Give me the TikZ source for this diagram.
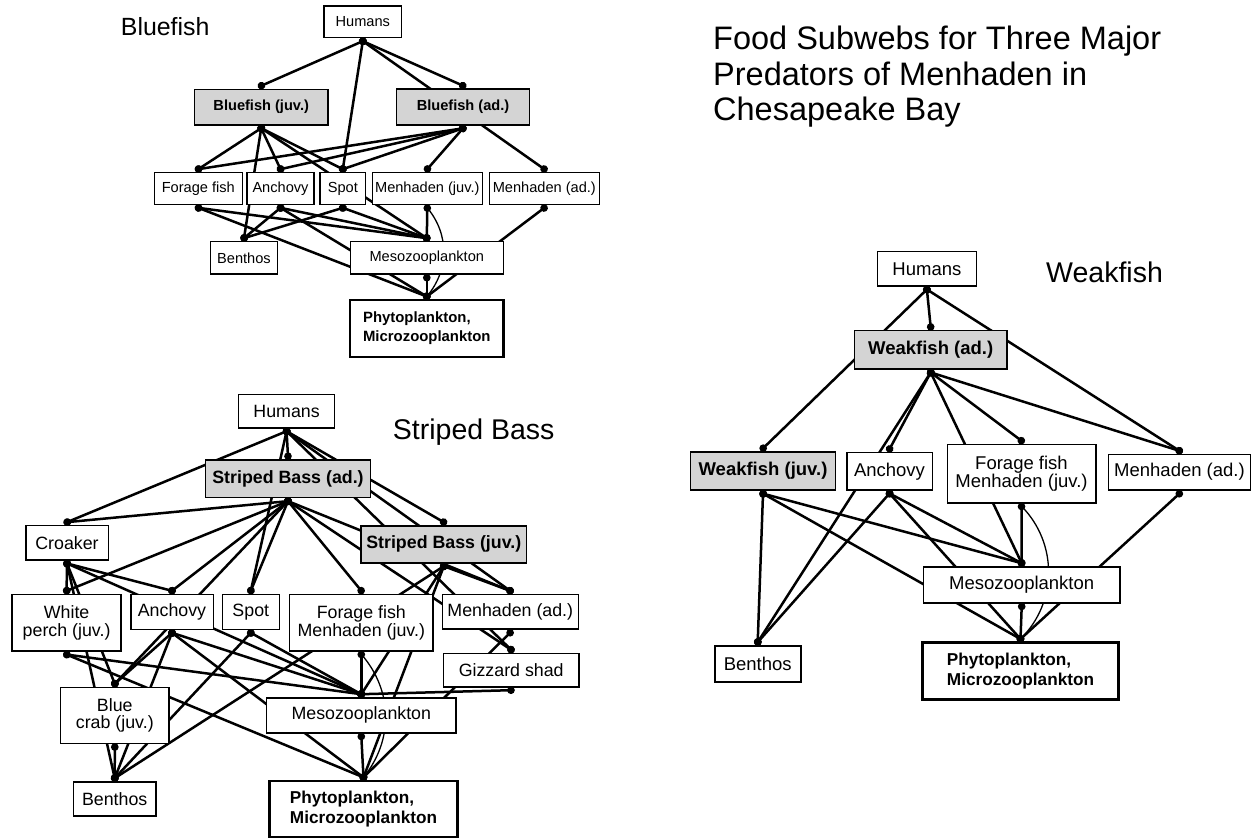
\documentclass[tikz,border=0pt]{standalone}
\usepackage{fontspec}
\setmainfont{Liberation Sans}
\usetikzlibrary{arrows.meta,backgrounds}
\definecolor{fishgray}{RGB}{212,212,212}

\tikzset{
  box/.style={draw, line width=1.6pt, fill=white, inner sep=0pt, outer sep=3.5pt, align=center},
  fishbox/.style={box, fill=fishgray, font=\bfseries},
  plankbox/.style={box, line width=2.6pt, align=left, font=\bfseries\fontsize{17.2}{20}\selectfont},
  feed/.style={line width=2.5pt, {Circle[length=7.5pt]}-{Circle[length=7.5pt]}, shorten <=-3.5pt, shorten >=-3.5pt},
  curl/.style={line width=1.3pt, bend left=#1},
  webtitle/.style={anchor=base west, inner sep=0pt, font=\fontsize{28.5}{32}\selectfont}
}

\begin{document}
\begin{tikzpicture}[x=1pt, y=-1pt]
  \useasboundingbox (0,0) rectangle (1257,838);

  % titles
  \node[anchor=north west, inner sep=0pt, align=left, font=\fontsize{32.5}{35.5}\selectfont] (maintitle) at (713,26)
    {Food Subwebs for Three Major\\Predators of Menhaden in\\Chesapeake Bay};
  \node[webtitle, font=\fontsize{24.9}{28}\selectfont] (bluetitle) at (120.7,35) {Bluefish};
  \node[webtitle] (stripetitle) at (392.7,439) {Striped Bass};
  \node[webtitle] (weaktitle) at (1046,282) {Weakfish};

  % Bluefish subweb
  \begin{scope}[node font=\fontsize{14.6}{14.6}\selectfont]
    \node[box, minimum width=77.7, minimum height=31.7] (bhum) at (362.8,21.8) {Humans};
    \node[fishbox, minimum width=133.7, minimum height=35.4] (bjuv) at (261.2,107) {Bluefish (juv.)};
    \node[fishbox, minimum width=133.3, minimum height=35.6] (bad) at (463,107) {Bluefish (ad.)};
    \node[box, minimum width=88, minimum height=31.7] (bfor) at (198.3,188.5) {Forage fish};
    \node[box, minimum width=67, minimum height=31.7] (banc) at (280.5,188.5) {Anchovy};
    \node[box, minimum width=45.7, minimum height=31.7] (bspt) at (342.8,188.5) {Spot};
    \node[box, minimum width=110, minimum height=31.7] (bmnj) at (427.3,188.5) {Menhaden (juv.)};
    \node[box, minimum width=110, minimum height=31.7] (bmna) at (544.3,188.5) {Menhaden (ad.)};
    \node[box, minimum width=67.3, minimum height=32.3] (bben) at (244,257.8) {Benthos};
    \node[box, minimum width=153, minimum height=32.3] (bmes) at (426.8,257.8) {Mesozooplankton};
    \node[plankbox, font=\bfseries\fontsize{14.9}{19}\selectfont, minimum width=153.7, minimum height=57] (bphy) at (426.8,328.5) {Phytoplankton,\\Microzooplankton};
  \end{scope}

  % Striped Bass subweb
  \begin{scope}[node font=\fontsize{17.8}{17.8}\selectfont]
    \node[box, minimum width=96, minimum height=33.4] (shum) at (286.6,411) {Humans};
    \node[fishbox, minimum width=165.3, minimum height=37.7] (sad) at (288,478.8) {Striped Bass (ad.)};
    \node[fishbox, minimum width=165.7, minimum height=37] (sjuv) at (443.8,544.2) {Striped Bass (juv.)};
    \node[box, minimum width=82.6, minimum height=34.3] (scro) at (67,542.8) {Croaker};
    \node[box, minimum width=108.7, minimum height=56.7] (swpe) at (66.6,622.7) {White\\perch (juv.)};
    \node[box, minimum width=82.6, minimum height=35] (sanc) at (172,611.8) {Anchovy};
    \node[box, minimum width=57, minimum height=35] (sspt) at (250.8,611.8) {Spot};
    \node[box, minimum width=143.4, minimum height=56.4] (sfor) at (361.3,622.5) {Forage fish\\Menhaden (juv.)};
    \node[box, minimum width=136, minimum height=34.7] (smna) at (510.3,611.7) {Menhaden (ad.)};
    \node[box, minimum width=135.7, minimum height=33.4] (sgiz) at (511.2,670) {Gizzard shad};
    \node[box, minimum width=108.3, minimum height=56] (sblc) at (114.8,715.3) {Blue\\crab (juv.)};
    \node[box, minimum width=189.3, minimum height=35] (smes) at (361.3,715.2) {Mesozooplankton};
    \node[box, minimum width=82.7, minimum height=34] (sben) at (114.7,798.7) {Benthos};
    \node[plankbox, minimum width=188, minimum height=56.3] (sphy) at (363.5,809) {Phytoplankton,\\Microzooplankton};
  \end{scope}

  % Weakfish subweb
  \begin{scope}[node font=\fontsize{18.5}{18.5}\selectfont]
    \node[box, minimum width=99, minimum height=34.3] (whum) at (926.9,268.8) {Humans};
    \node[fishbox, minimum width=152.3, minimum height=38.3] (wad) at (930.7,349.8) {Weakfish (ad.)};
    \node[fishbox, minimum width=145, minimum height=38.3] (wjuv) at (763,471) {Weakfish (juv.)};
    \node[box, minimum width=85.6, minimum height=37.3] (wanc) at (889.5,471.3) {Anchovy};
    \node[box, minimum width=148.4, minimum height=58.4] (wfor) at (1021.5,473.5) {Forage fish\\Menhaden (juv.)};
    \node[box, minimum width=142.2, minimum height=35.7] (wmna) at (1179.5,472.2) {Menhaden (ad.)};
    \node[box, minimum width=196.7, minimum height=36] (wmes) at (1021.7,584.7) {Mesozooplankton};
    \node[box, minimum width=86, minimum height=36] (wben) at (757.7,663.7) {Benthos};
    \node[plankbox, minimum width=195.6, minimum height=57] (wphy) at (1020.5,671) {Phytoplankton,\\Microzooplankton};
  \end{scope}

  \begin{pgfonlayer}{background}
    % Bluefish links
    \path[feed] (bhum.south) edge (bjuv.north) edge (bad.north) edge (bspt.north) edge (bmna.north);
    \path[feed] (bjuv.south) edge (bfor.north) edge (banc.north) edge (bspt.north) edge (bben.north) edge (bmes.north);
    \path[feed] (bad.south) edge (bfor.north) edge (banc.north) edge (bspt.north) edge (bmnj.north);
    \path[feed] (bfor.south) edge (bmes.north) edge (bphy.north);
    \path[feed] (banc.south) edge (bben.north) edge (bmes.north) edge (bphy.north);
    \path[feed] (bspt.south) edge (bben.north) edge (bmes.north);
    \path[feed] (bmnj.south) edge (bmes.north);
    \path[feed] (bmna.south) edge (bphy.north);
    \path[feed] (bmes.south) edge (bphy.north);
    \draw[curl=40] (bmnj.south) to (bphy.north);

    % Striped Bass links
    \path[feed] (shum.south) edge (scro.north) edge (sad.north) edge (sspt.north) edge (sjuv.north) edge (smna.north) edge (sgiz.north);
    \path[feed] (sad.south) edge (scro.north) edge (swpe.north) edge (sanc.north) edge (sblc.north) edge (sspt.north) edge (sfor.north) edge (smna.north) edge (sgiz.north);
    \path[feed] (sjuv.south) edge (smna.north) edge (smes.north) edge (sben.north) edge (sphy.north);
    \path[feed] (scro.south) edge (swpe.north) edge (sblc.north) edge (sben.north) edge (sanc.north) edge (smes.north);
    \path[feed] (swpe.south) edge (smes.north) edge (sphy.north);
    \path[feed] (sanc.south) edge (sblc.north) edge (sben.north) edge (smes.north) edge (sphy.north);
    \path[feed] (sspt.south) edge (sben.north) edge (smes.north);
    \path[feed] (sfor.south) edge (smes.north);
    \path[feed] (smna.south) edge (sphy.north);
    \path[feed] (sgiz.south) edge (smes.north);
    \path[feed] (sblc.south) edge (sben.north);
    \path[feed] (smes.south) edge (sphy.north);
    \draw[curl=40] (sfor.south) to (sphy.north);

    % Weakfish links
    \path[feed] (whum.south) edge (wad.north) edge (wjuv.north) edge (wmna.north);
    \path[feed] (wad.south) edge (wanc.north) edge (wben.north) edge (wmes.north) edge (wfor.north) edge (wmna.north);
    \path[feed] (wjuv.south) edge (wben.north) edge (wmes.north) edge (wphy.north);
    \path[feed] (wanc.south) edge (wben.north) edge (wmes.north) edge (wphy.north);
    \path[feed] (wfor.south) edge (wmes.north);
    \path[feed] (wmna.south) edge (wphy.north);
    \path[feed] (wmes.south) edge (wphy.north);
    \draw[curl=45] (wfor.south) to (wphy.north);
  \end{pgfonlayer}
\end{tikzpicture}
\end{document}
